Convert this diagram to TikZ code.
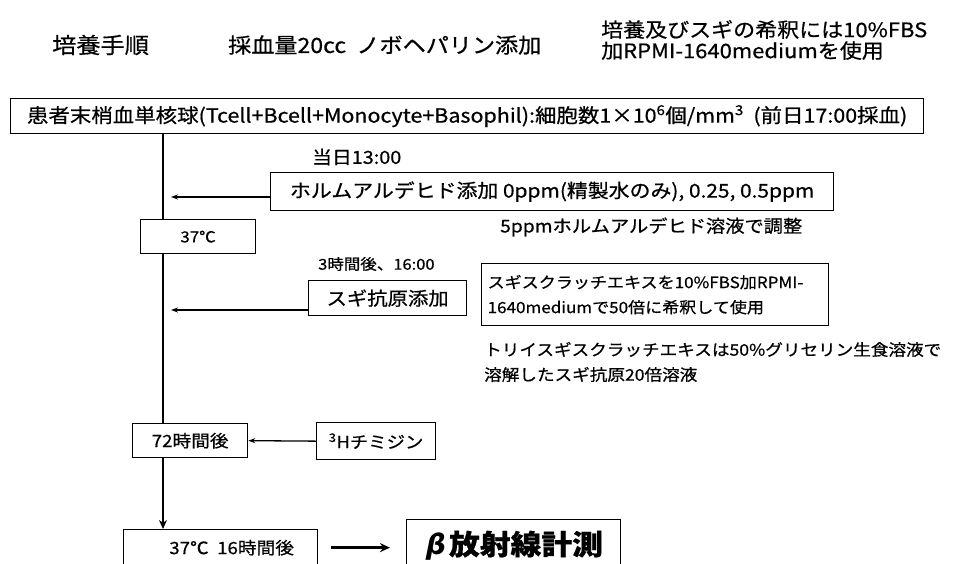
\documentclass[tikz,border=0pt]{standalone}
\usepackage{fontspec}
\setmainfont{Noto Sans CJK JP}[FakeStretch=1.1, FakeBold=0.6]
\newfontfamily\slantfont{DejaVu Sans}[FakeSlant=0.2]
\usetikzlibrary{arrows.meta}
\newcommand{\fs}[1]{\fontsize{#1}{#1}\selectfont}
\begin{document}
\begin{tikzpicture}[x=1pt,y=-1pt,
  box/.style={draw, line width=1.3pt, fill=white, inner sep=0pt, anchor=north west, align=center},
  lbl/.style={anchor=west, inner sep=0pt, align=left},
  spine/.style={line width=2.8pt},
  arr/.style={line width=1.3pt, -{Stealth[length=7pt,width=5pt]}},
  bigarr/.style={line width=3.5pt, -{Stealth[length=10pt,width=9pt]}}]
\useasboundingbox (0,0) rectangle (972,563);
\clip (0,0) rectangle (972,563);
% headers
\node[lbl, font=\fs{22}] (h1) at (52,45) {培養手順};
\node[lbl, font=\fs{21}] (h2) at (228,45) {採血量20cc\ \ ノボヘパリン添加};
\node[lbl, font=\fontsize{20}{21}\selectfont] (h3) at (601,40) {培養及びスギの希釈には10\%FBS\\加RPMI-1640mediumを使用};
% spine coordinate
\coordinate (sp) at (163,0);
% top box
\node[box, minimum width=913pt, minimum height=35pt, font=\fs{19.5}] (top) at (10,98)
  {患者末梢血単核球(Tcell+Bcell+Monocyte+Basophil):細胞数1×10\textsuperscript{6}個/mm\textsuperscript{3}\ \ (前日17:00採血)};
% boxes on spine
\coordinate (c72top) at (163,423);
\draw[spine] (top.south -| sp) -- (c72top);
\node[box, minimum width=115pt, minimum height=34pt, font=\fs{15.3}] (t37) at (140,219) {37℃};
\node[box, minimum width=115pt, minimum height=34pt, font=\fs{17}] (c72) at (132,423) {72時間後};
\node[box, minimum width=194pt, minimum height=36pt, font=\fs{17}] (bot) at (123,529) {\hspace*{22pt}37℃\ \ 16時間後};
\draw[spine, -{Stealth[length=9pt,width=8pt]}] (c72.south -| sp) -- (bot.north -| sp);
% formaldehyde
\node[lbl, font=\fs{18}] (d1) at (312,157) {当日13:00};
\node[box, minimum width=563pt, minimum height=38pt, font=\fs{19}] (form) at (270,172)
  {ホルムアルデヒド添加 0ppm(精製水のみ), 0.25, 0.5ppm};
\coordinate (s1) at (171,197);
\draw[arr] (form.west |- s1) -- (s1);
\node[lbl, font=\fs{17.5}] (n1) at (500,227) {5ppmホルムアルデヒド溶液で調整};
% sugi
\node[lbl, font=\fs{15}] (d2) at (318,264) {3時間後、16:00};
\node[box, minimum width=158pt, minimum height=35pt, font=\fs{18.5}] (sugi) at (308,280) {スギ抗原添加};
\coordinate (s2) at (171,310);
\draw[arr] (sugi.west |- s2) -- (s2);
\node[box, minimum width=347pt, minimum height=62pt, font=\fontsize{15.5}{25}\selectfont, align=left, text width=335pt] (ext) at (481,263)
  {スギスクラッチエキスを10\%FBS加RPMI-\\1640mediumで50倍に希釈して使用};
\node[lbl, font=\fontsize{16}{25}\selectfont] (n2) at (484,362) {トリイスギスクラッチエキスは50\%グリセリン生食溶液で\\溶解したスギ抗原20倍溶液};
% thymidine
\node[box, minimum width=119pt, minimum height=37pt, font=\fs{16.7}] (thy) at (316,422) {\textsuperscript{3}Hチミジン};
\draw[arr] (thy.west) -- (c72.east);
% beta
\node[box, minimum width=214pt, minimum height=52pt, font=\fs{28}\bfseries] (beta) at (406,519) {{\slantfont β}\,放射線計測};
\draw[bigarr] ([xshift=13pt]bot.east) -- ([xshift=-16pt]beta.west |- bot.east);
\end{tikzpicture}
\end{document}
